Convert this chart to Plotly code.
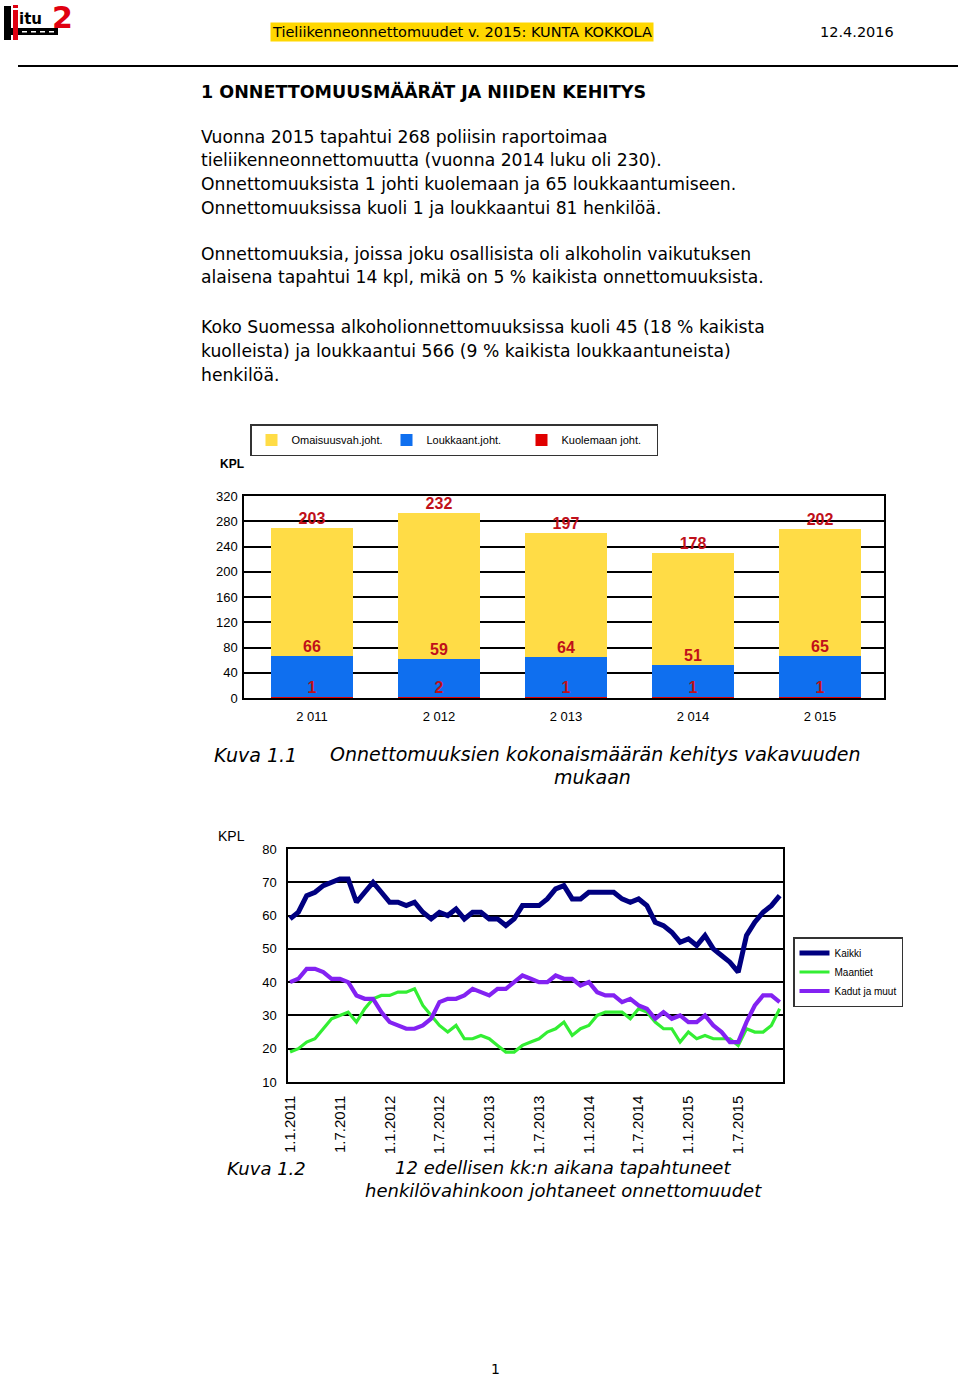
import plotly.graph_objects as go

# ---------------- data ----------------
years = ["2 011", "2 012", "2 013", "2 014", "2 015"]
omaisuus = [203, 232, 197, 178, 202]
loukkaant = [66, 59, 64, 51, 65]
kuolemaan = [1, 2, 1, 1, 1]

kaikki = [59, 61, 66, 67, 69, 70, 71, 71, 64, 67,
          70, 67, 64, 64, 63, 64, 61, 59, 61, 60,
          62, 59, 61, 61, 59, 59, 57, 59, 63, 63,
          63, 65, 68, 69, 65, 65, 67, 67, 67, 67,
          65, 64, 65, 63, 58, 57, 55, 52, 53, 51,
          54, 50, 48, 46, 43, 54, 58, 61, 63, 66]
maantiet = [19, 20, 22, 23, 26, 29, 30, 31, 28, 32,
            35, 36, 36, 37, 37, 38, 33, 30, 27, 25,
            27, 23, 23, 24, 23, 21, 19, 19, 21, 22,
            23, 25, 26, 28, 24, 26, 27, 30, 31, 31,
            31, 29, 32, 31, 28, 26, 26, 22, 25, 23,
            24, 23, 23, 23, 21, 26, 25, 25, 27, 32]
kadut = [40, 41, 44, 44, 43, 41, 41, 40, 36, 35,
         35, 31, 28, 27, 26, 26, 27, 29, 34, 35,
         35, 36, 38, 37, 36, 38, 38, 40, 42, 41,
         40, 40, 42, 41, 41, 39, 40, 37, 36, 36,
         34, 35, 33, 32, 29, 31, 29, 30, 28, 28,
         30, 27, 25, 22, 22, 28, 33, 36, 36, 34]
month_index = list(range(len(kaikki)))
month_tick_pos = [0, 6, 12, 18, 24, 30, 36, 42, 48, 54]
month_tick_text = ["1.1.2011", "1.7.2011", "1.1.2012", "1.7.2012", "1.1.2013",
                   "1.7.2013", "1.1.2014", "1.7.2014", "1.1.2015", "1.7.2015"]

W, H = 960, 1377


def px(x):
    return x / W


def py(y):
    return 1 - y / H


fig = go.Figure()

YEL = "#FFDC46"
BLU = "#0F6FEF"
RED = "#E00000"
LBL = "#C0101A"

fig.add_trace(go.Bar(x=years, y=kuolemaan, name="Kuolemaan joht.", marker=dict(color=RED, line_width=0),
                     legend="legend", xaxis="x", yaxis="y"))
fig.add_trace(go.Bar(x=years, y=loukkaant, name="Loukkaant.joht.", marker=dict(color=BLU, line_width=0),
                     legend="legend", xaxis="x", yaxis="y"))
fig.add_trace(go.Bar(x=years, y=omaisuus, name="Omaisuusvah.joht.", marker=dict(color=YEL, line_width=0),
                     legend="legend", xaxis="x", yaxis="y"))

lvl1 = kuolemaan
lvl2 = [a + b for a, b in zip(kuolemaan, loukkaant)]
lvl3 = [a + b for a, b in zip(lvl2, omaisuus)]
for lv, vals in [(lvl1, kuolemaan), (lvl2, loukkaant), (lvl3, omaisuus)]:
    fig.add_trace(go.Scatter(x=years, y=lv, text=[str(v) for v in vals], mode="text",
                             textposition="top center", showlegend=False, cliponaxis=False,
                             textfont=dict(family="Liberation Sans", size=16, color=LBL, weight="bold"),
                             xaxis="x", yaxis="y", hoverinfo="skip"))

fig.add_trace(go.Scatter(x=month_index, y=kaikki, name="Kaikki", mode="lines",
                         line=dict(color="#000080", width=5), legend="legend2", xaxis="x2", yaxis="y2"))
fig.add_trace(go.Scatter(x=month_index, y=maantiet, name="Maantiet", mode="lines",
                         line=dict(color="#33EE33", width=3.2), legend="legend2", xaxis="x2", yaxis="y2"))
fig.add_trace(go.Scatter(x=month_index, y=kadut, name="Kadut ja muut", mode="lines",
                         line=dict(color="#8322F2", width=4.2), legend="legend2", xaxis="x2", yaxis="y2"))

axfont = dict(family="Liberation Sans", size=13, color="black")

fig.update_layout(
    width=W, height=H, autosize=False, margin=dict(l=0, r=0, t=0, b=0, pad=0, autoexpand=False),
    paper_bgcolor="white", plot_bgcolor="white",
    barmode="stack", bargap=0.355,
    xaxis=dict(domain=[px(244), px(884)], anchor="y", range=[-0.535, 4.504], showgrid=False,
               showline=True, mirror=True, linecolor="black", linewidth=1.5, ticks="",
               tickfont=axfont, ticklabelstandoff=6, automargin=False, fixedrange=True),
    yaxis=dict(domain=[py(698), py(496)], anchor="x", range=[0, 320], dtick=40, showgrid=True,
               gridcolor="black", gridwidth=1.5, showline=True, mirror=True, linecolor="black",
               linewidth=1.5, ticks="", tickfont=axfont, ticklabelstandoff=2, zeroline=False,
               automargin=False),
    xaxis2=dict(domain=[px(288), px(783)], anchor="y2", range=[-0.25, 59.4], tickvals=month_tick_pos,
                ticktext=month_tick_text, tickangle=-90, showgrid=False, showline=True, mirror=True,
                linecolor="black", linewidth=1.5, ticks="", ticklabelstandoff=6,
                tickfont=dict(family="Liberation Sans", size=15, color="black"), zeroline=False,
                automargin=False),
    yaxis2=dict(domain=[py(1082), py(849)], anchor="x2", range=[10, 80], dtick=10, showgrid=True,
                gridcolor="black", gridwidth=1.5, showline=True, mirror=True, linecolor="black",
                linewidth=1.5, ticks="", tickfont=axfont, ticklabelstandoff=7, zeroline=False,
                automargin=False),
    legend=dict(orientation="h", x=px(250), y=py(424), xanchor="left", yanchor="top",
                traceorder="reversed", bordercolor="#333333", borderwidth=1.5, bgcolor="white",
                font=dict(family="Liberation Sans", size=11, color="black"),
                entrywidth=90, entrywidthmode="pixels", itemclick=False),
    legend2=dict(orientation="v", x=px(793), y=py(937), xanchor="left", yanchor="top",
                 bordercolor="#333333", borderwidth=1.5, bgcolor="white",
                 font=dict(family="Liberation Sans", size=10, color="black"),
                 itemwidth=30, tracegroupgap=0),
)

ann = []


def txt(x, y, s, size=16, family="DejaVu Sans", xanchor="left", color="black", bg=None, yanchor="middle"):
    d = dict(x=px(x), y=py(y), xref="paper", yref="paper", text=s, showarrow=False,
             xanchor=xanchor, yanchor=yanchor, font=dict(family=family, size=size, color=color))
    if bg:
        d["bgcolor"] = bg
    ann.append(d)


# header
txt(462, 32, "Tieliikenneonnettomuudet v. 2015: KUNTA KOKKOLA", size=14.5, xanchor="center", bg="#FFD700")
txt(896, 32, "12.4.2016", size=14.5, xanchor="right")

# logo
ann.append(dict(x=px(17), y=py(19), xref="paper", yref="paper", text="<b>itu</b>", showarrow=False,
                xanchor="left", yanchor="middle", font=dict(family="DejaVu Sans", size=15, color="black")))
ann.append(dict(x=px(50), y=py(18), xref="paper", yref="paper", text="<b>2</b>", showarrow=False,
                xanchor="left", yanchor="middle", font=dict(family="DejaVu Sans", size=30, color="#E00010")))

# heading and paragraphs
txt(199, 91, "<b>1 ONNETTOMUUSMÄÄRÄT JA NIIDEN KEHITYS</b>", size=17.5)
lines = [
    (137, "Vuonna 2015 tapahtui 268 poliisin raportoimaa"),
    (160, "tieliikenneonnettomuutta (vuonna 2014 luku oli 230)."),
    (184, "Onnettomuuksista 1 johti kuolemaan ja 65 loukkaantumiseen."),
    (208, "Onnettomuuksissa kuoli 1 ja loukkaantui 81 henkilöä."),
    (254, "Onnettomuuksia, joissa joku osallisista oli alkoholin vaikutuksen"),
    (277, "alaisena tapahtui 14 kpl, mikä on 5 % kaikista onnettomuuksista."),
    (327, "Koko Suomessa alkoholionnettomuuksissa kuoli 45 (18 % kaikista"),
    (351, "kuolleista) ja loukkaantui 566 (9 % kaikista loukkaantuneista)"),
    (375, "henkilöä."),
]
for y, s in lines:
    txt(199, y, s, size=17.2)

# chart labels
txt(218, 464, "<b>KPL</b>", size=12, family="Liberation Sans")
txt(216, 836, "KPL", size=14, family="Liberation Sans")

# captions
txt(212, 755, "<i>Kuva 1.1</i>", size=19)
txt(595, 754, "<i>Onnettomuuksien kokonaismäärän kehitys vakavuuden</i>", size=19, xanchor="center")
txt(592, 777, "<i>mukaan</i>", size=19, xanchor="center")
txt(225, 1168, "<i>Kuva 1.2</i>", size=18)
txt(563, 1167, "<i>12 edellisen kk:n aikana tapahtuneet</i>", size=18, xanchor="center")
txt(563, 1190, "<i>henkilövahinkoon johtaneet onnettomuudet</i>", size=18, xanchor="center")

txt(495, 1369, "1", size=14, xanchor="center")

fig.update_layout(annotations=ann)

shapes = [
    dict(type="line", xref="paper", yref="paper", x0=px(18), x1=px(958), y0=py(66), y1=py(66),
         line=dict(color="black", width=2)),
    # logo parts
    dict(type="rect", xref="paper", yref="paper", x0=px(4), x1=px(11), y0=py(6), y1=py(40),
         fillcolor="black", line_width=0),
    dict(type="rect", xref="paper", yref="paper", x0=px(4), x1=px(58), y0=py(28), y1=py(35),
         fillcolor="black", line_width=0),
    dict(type="rect", xref="paper", yref="paper", x0=px(13), x1=px(18), y0=py(10), y1=py(40),
         fillcolor="#E00010", line_width=0),
    dict(type="rect", xref="paper", yref="paper", x0=px(13), x1=px(18), y0=py(5), y1=py(8),
         fillcolor="#E00010", line_width=0),
]
for xs in [22, 31, 40, 49]:
    shapes.append(dict(type="rect", xref="paper", yref="paper", x0=px(xs), x1=px(xs + 5),
                       y0=py(31), y1=py(32.5), fillcolor="white", line_width=0))
fig.update_layout(shapes=shapes)

fig.write_html("out.html", config={"displayModeBar": False},
               post_script="document.body.style.margin='0px';")
